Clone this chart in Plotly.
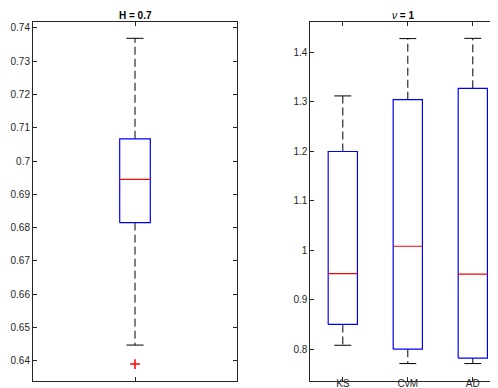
import plotly.graph_objects as go

# ---------------- data ----------------
h_pos = [1]
h_q1 = [0.6815]
h_med = [0.6945]
h_q3 = [0.7067]
h_lo = [0.6447]
h_hi = [0.7369]
h_out = [0.639]

nu_cats = ["KS", "CvM", "AD"]
nu_pos = [1, 2, 3]
nu_q1 = [0.850, 0.800, 0.782]
nu_med = [0.9527, 1.008, 0.9515]
nu_q3 = [1.1994, 1.304, 1.327]
nu_lo = [0.808, 0.771, 0.771]
nu_hi = [1.3117, 1.4275, 1.428]

h_ticks = [0.64, 0.65, 0.66, 0.67, 0.68, 0.69, 0.70, 0.71, 0.72, 0.73, 0.74]
h_ticktext = ["0.64", "0.65", "0.66", "0.67", "0.68", "0.69", "0.7", "0.71", "0.72", "0.73", "0.74"]
nu_ticks = [0.8, 0.9, 1.0, 1.1, 1.2, 1.3, 1.4]
nu_ticktext = ["0.8", "0.9", "1", "1.1", "1.2", "1.3", "1.4"]

# ---------------- styles ----------------
BLUE = "#0000FF"
RED = "#FF0000"
BLACK = "#000000"
AXC = "#262626"
FONT = "Liberation Sans, Arial, sans-serif"

fig = go.Figure()


def add_boxes(pos, q1, med, q3, lo, hi, bw, cw, xa, ya):
    for p, a, m, b, l, h in zip(pos, q1, med, q3, lo, hi):
        common = dict(xaxis=xa, yaxis=ya, mode="lines", showlegend=False, hoverinfo="skip")
        # whiskers
        fig.add_trace(go.Scatter(x=[p, p], y=[b, h], line=dict(color=BLACK, width=1, dash="8px,4px"), **common))
        fig.add_trace(go.Scatter(x=[p, p], y=[a, l], line=dict(color=BLACK, width=1, dash="8px,4px"), **common))
        # caps
        fig.add_trace(go.Scatter(x=[p - cw, p + cw], y=[h, h], line=dict(color=BLACK, width=1), **common))
        fig.add_trace(go.Scatter(x=[p - cw, p + cw], y=[l, l], line=dict(color=BLACK, width=1), **common))
        # box
        fig.add_trace(go.Scatter(x=[p - bw, p + bw, p + bw, p - bw, p - bw], y=[a, a, b, b, a],
                                 line=dict(color=BLUE, width=1.2), **common))
        # median
        fig.add_trace(go.Scatter(x=[p - bw, p + bw], y=[m, m], line=dict(color=RED, width=1.2), **common))


add_boxes(h_pos, h_q1, h_med, h_q3, h_lo, h_hi, 0.075, 0.042, "x", "y")
fig.add_trace(go.Scatter(x=[h_pos[0]] * len(h_out), y=h_out, mode="markers", xaxis="x", yaxis="y",
                         marker=dict(symbol="cross-thin", size=7, line=dict(color=RED, width=1.5)),
                         showlegend=False, hoverinfo="skip"))
add_boxes(nu_pos, nu_q1, nu_med, nu_q3, nu_lo, nu_hi, 0.225, 0.13, "x2", "y2")

ax_common = dict(showline=True, linecolor=AXC, linewidth=1, mirror="allticks", ticks="inside",
                 ticklen=4, tickcolor=AXC, showgrid=False, zeroline=False,
                 tickfont=dict(family=FONT, size=10, color=AXC))

fig.update_layout(
    width=498, height=388,
    margin=dict(l=0, r=0, t=0, b=0),
    paper_bgcolor="white", plot_bgcolor="white",
    xaxis=dict(domain=[25 / 498, 229 / 498], range=[0.5, 1.5], tickvals=h_pos, ticktext=[""], **ax_common),
    yaxis=dict(domain=[1 - 373 / 388, 1 - 14 / 388], range=[0.6339, 0.7418],
               tickvals=h_ticks, ticktext=h_ticktext, **ax_common),
    xaxis2=dict(domain=[302.3 / 498, 497.3 / 498], range=[0.5, 3.5], tickvals=nu_pos, ticktext=nu_cats,
                anchor="y2", ticklabelstandoff=-7, **ax_common),
    yaxis2=dict(domain=[1 - 372.5 / 388, 1 - 14 / 388], range=[0.7368, 1.461],
                tickvals=nu_ticks, ticktext=nu_ticktext, anchor="x2", **ax_common),
    annotations=[
        dict(text="<b>H = 0.7</b>", xref="paper", yref="paper", x=127 / 498, y=1 - 7 / 388,
             xanchor="center", yanchor="middle", showarrow=False,
             font=dict(family=FONT, size=10, color=BLACK)),
        dict(text="<i>ν</i> <b>= 1</b>", xref="paper", yref="paper", x=395 / 498, y=1 - 7 / 388,
             xanchor="center", yanchor="middle", showarrow=False,
             font=dict(family=FONT, size=10, color=BLACK)),
    ],
)

fig.write_html("out.html")
